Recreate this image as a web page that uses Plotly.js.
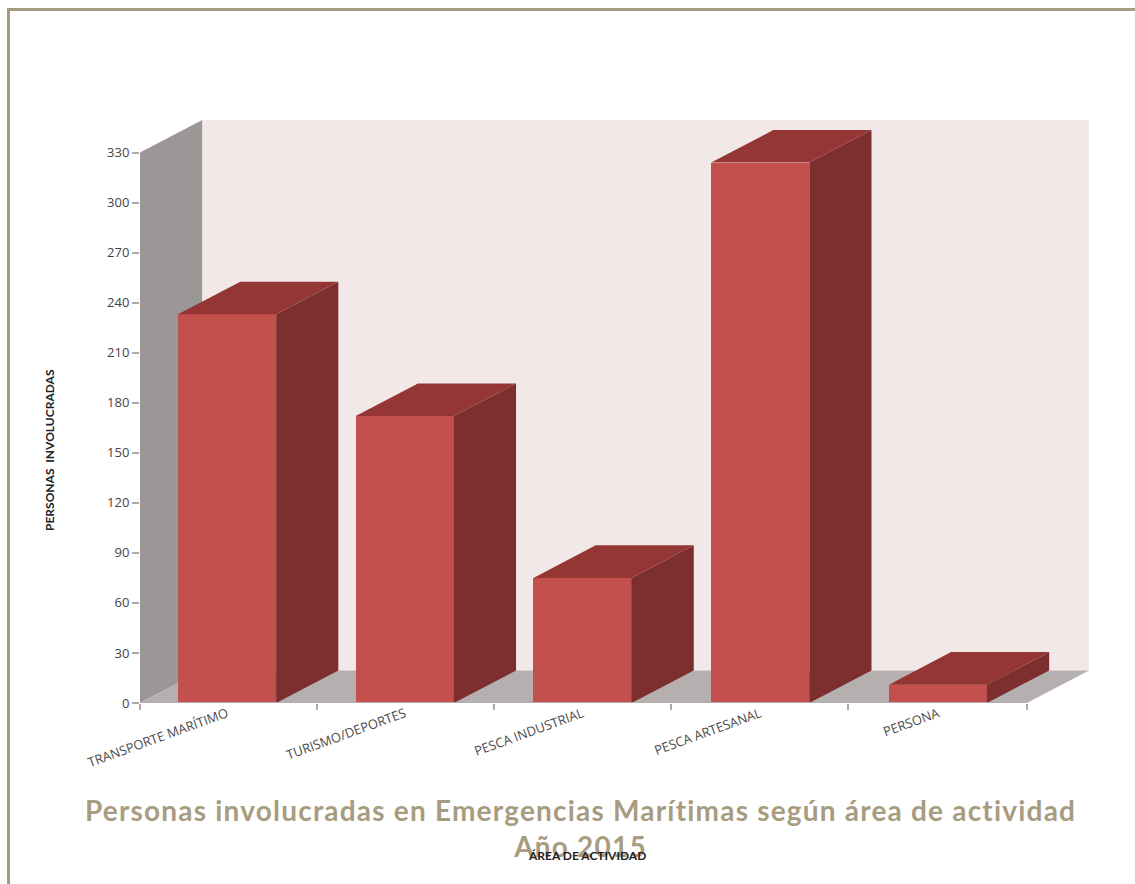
<!DOCTYPE html>
<html lang="es">
<head>
<meta charset="utf-8">
<script src="https://cdn.plot.ly/plotly-3.0.1.min.js"></script>
<style>
html,body{margin:0;padding:0;background:#fff;overflow:hidden}
#chart{position:absolute;left:0;top:0;width:1135px;height:884px}
#frame{position:absolute;left:7px;top:8px;right:0;bottom:0;border-left:3px solid #a89c80;border-top:3px solid #a89c80;pointer-events:none}
.gtitle{letter-spacing:1.2px}
</style>
</head>
<body>
<div id="chart"></div>
<div id="frame"></div>
<script>
const categories = ["TRANSPORTE MARÍTIMO","TURISMO/DEPORTES","PESCA INDUSTRIAL","PESCA ARTESANAL","PERSONA"];
const values = [233,172,75,324,11];
const yTicks = [0,30,60,90,120,150,180,210,240,270,300,330];
const categoryPositions = [0,1,2,3,4];
const boundaryTicks = [-0.49,0.506,1.502,2.5,3.494,4.5];

const barWidth = 0.552, depthX = 0.35, depthY = 19.5;
const xLeft = -0.49, xEnd = 4.5, xRight = xEnd + depthX, yTop = 330 + depthY;

function faces(build){
  const xs = [], ys = [];
  categoryPositions.forEach((c,i)=>{
    const pts = build(c - barWidth/2, c + barWidth/2, values[i]);
    pts.forEach(p=>{xs.push(p[0]);ys.push(p[1]);});
    xs.push(null);ys.push(null);
  });
  return {x:xs,y:ys};
}
const sideFaces = faces((l,r,v)=>[[r,0],[r+depthX,depthY],[r+depthX,v+depthY],[r,v],[r,0]]);
const topFaces = faces((l,r,v)=>[[l,v],[l+depthX,v+depthY],[r+depthX,v+depthY],[r,v],[l,v]]);

const polyPath = pts => "M" + pts.map(p=>p[0]+","+p[1]).join("L") + "Z";
const wallShapes = [
  {path:polyPath([[xLeft+depthX,depthY],[xRight,depthY],[xRight,yTop],[xLeft+depthX,yTop]]),fillcolor:"#f3e8e8"},
  {path:polyPath([[xLeft,0],[xLeft+depthX,depthY],[xLeft+depthX,yTop],[xLeft,330]]),fillcolor:"#9b9797"},
  {path:polyPath([[xLeft,0],[xLeft+depthX,depthY],[xRight,depthY],[xEnd,0]]),fillcolor:"#b5afaf"}
].map(s=>Object.assign(s,{type:"path",xref:"x",yref:"y",layer:"below",line:{width:0}}));

const traces = [
  {type:"bar",x:categoryPositions,y:values,width:barWidth,marker:{color:"#c4504e",line:{width:0}},hoverinfo:"y",showlegend:false},
  {type:"scatter",mode:"lines",x:sideFaces.x,y:sideFaces.y,fill:"toself",fillcolor:"#7d2e2f",line:{width:0,color:"#7d2e2f"},hoverinfo:"skip",showlegend:false},
  {type:"scatter",mode:"lines",x:topFaces.x,y:topFaces.y,fill:"toself",fillcolor:"#933634",line:{width:0,color:"#933634"},hoverinfo:"skip",showlegend:false},
  {type:"scatter",mode:"lines",x:[xLeft,xEnd],y:[0,0],xaxis:"x2",line:{color:"#b4aeae",width:2},hoverinfo:"skip",showlegend:false}
];

const textFont = "Lato, 'Open Sans', sans-serif";
const layout = {
  width:1135,height:884,
  margin:{l:140,r:46,t:120,b:181,pad:0},
  paper_bgcolor:"rgba(0,0,0,0)",plot_bgcolor:"rgba(0,0,0,0)",
  showlegend:false,
  bargap:0,
  title:{text:"Personas involucradas en Emergencias Marítimas según área de actividad<br>Año 2015",
    x:0.5115,xanchor:"center",y:0.0715,yanchor:"middle",xref:"container",yref:"container",
    font:{family:textFont,size:28,color:"#a89c80",weight:700}},
  xaxis:{range:[xLeft,xRight],tickmode:"array",tickvals:categoryPositions,ticktext:categories,tickangle:-20,
    ticks:"",showgrid:false,zeroline:false,showline:false,
    tickfont:{family:"'Open Sans', sans-serif",size:13,color:"#4a4a4a"}},
  xaxis2:{range:[xLeft,xRight],overlaying:"x",side:"bottom",anchor:"y",tickmode:"array",tickvals:boundaryTicks,
    ticks:"outside",ticklen:6,tickwidth:1.5,tickcolor:"#aaaaaa",showticklabels:false,showgrid:false,zeroline:false,showline:false},
  yaxis:{range:[0,yTop],tickmode:"array",tickvals:yTicks,ticks:"outside",ticklen:7,tickwidth:1.5,tickcolor:"#aaaaaa",
    showgrid:false,zeroline:false,showline:false,
    tickfont:{family:"'Open Sans', sans-serif",size:13,color:"#444444"}},
  shapes:wallShapes,
  annotations:[
    {text:"<b>ÁREA DE ACTIVIDAD</b>",xref:"paper",yref:"paper",x:(587-140)/949,y:-(855-703)/583,showarrow:false,xanchor:"center",yanchor:"middle",
      font:{family:textFont,size:12,color:"#222222"}},
    {text:"<b>PERSONAS  INVOLUCRADAS</b>",xref:"paper",yref:"paper",x:-(140-49)/949,y:(703-450)/583,textangle:-90,showarrow:false,xanchor:"center",yanchor:"middle",
      font:{family:textFont,size:12,color:"#222222"}}
  ]
};
Plotly.newPlot("chart",traces,layout,{displayModeBar:false,responsive:false});
</script>
</body>
</html>
